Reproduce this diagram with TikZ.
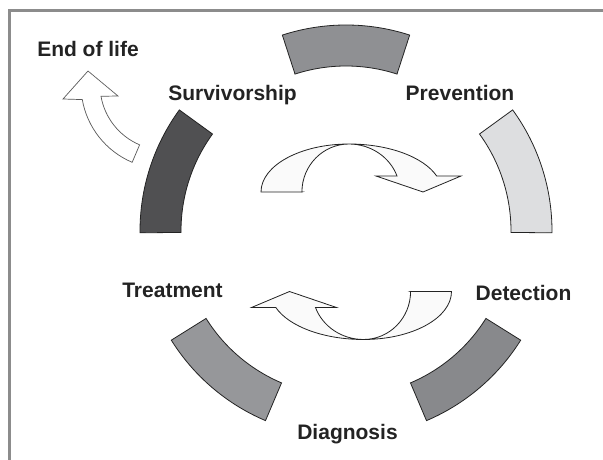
\documentclass[tikz,border=0pt]{standalone}
\usepackage{fontspec}
\setmainfont{Liberation Sans}
\usetikzlibrary{calc}
\definecolor{topgray}{RGB}{143,144,147}
\definecolor{prevgray}{RGB}{221,222,224}
\definecolor{survgray}{RGB}{80,80,82}
\definecolor{detgray}{RGB}{136,137,140}
\definecolor{treatgray}{RGB}{150,151,154}
\definecolor{framegray}{RGB}{140,140,140}
\definecolor{inkdark}{RGB}{35,35,35}
\newcommand\ringpart[3]{%
  \draw[seg, fill=#3] ($(C)+(#1:206)$) arc[start angle=#1, end angle=#2, radius=206]
    -- ($(C)+(#2:165)$) arc[start angle=#2, end angle=#1, radius=165] -- cycle;}
\newcommand\twistarrow{%
  \draw[blk] (-59,-24) -- (-100,-24)
    arc[start angle=180, end angle=90, x radius=88, y radius=48]
    arc[start angle=90, end angle=19.47, x radius=93, y radius=48]
    -- (100,-8) -- (62,-24) -- (15,-8) -- (36,-8)
    arc[start angle=19.5, end angle=90, x radius=51, y radius=48]
    arc[start angle=90, end angle=180, x radius=47, y radius=48]
    -- cycle;}
\begin{document}
\begin{tikzpicture}[x=1pt,y=1pt,
  seg/.style={draw=inkdark, line width=0.8pt, line join=miter},
  lbl/.style={font=\bfseries\fontsize{21}{21}\selectfont, text=inkdark, inner sep=0pt, anchor=base},
  blk/.style={draw=inkdark, fill=black!2, line width=0.8pt, line join=miter},
  exitarrow/.style={draw=black!65, fill=white, line width=0.7pt, line join=miter}]
\useasboundingbox (0,0) rectangle (603,459);
\clip (0,0) rectangle (603,459);
\draw[line width=2.5pt, draw=framegray] (9.7,-10) -- (9.7,448.7) -- (620,448.7);
\coordinate (C) at (346,228);
% ring segments
\ringpart{72}{108}{topgray}
\ringpart{-0.5}{36}{prevgray}
\ringpart{144}{180.5}{survgray}
\ringpart{-67}{-32}{detgray}
\ringpart{212}{247}{treatgray}
% central twisted arrows
\begin{scope}[shift={(361,291)}]
  \twistarrow
\end{scope}
\begin{scope}[shift={(351.5,143.5)}, rotate=180]
  \twistarrow
\end{scope}
% end of life arrow
\coordinate (E) at (165,374);
\draw[exitarrow] ($(E)+(247:65)$) arc[start angle=247, end angle=190, radius=65]
  -- (118,363) -- (88,388) -- (63,360) -- ($(E)+(190:84)$)
  arc[start angle=190, end angle=247, radius=84] -- cycle;
% labels
\node[lbl] (eol) at (88,402) {End of life};
\node[lbl] (surv) at (232.5,358) {Survivorship};
\node[lbl] (prev) at (460,359) {Prevention};
\node[lbl] (treat) at (172.5,162) {Treatment};
\node[lbl] (det) at (523.5,159) {Detection};
\node[lbl] (diag) at (347.5,20) {Diagnosis};
\end{tikzpicture}
\end{document}
